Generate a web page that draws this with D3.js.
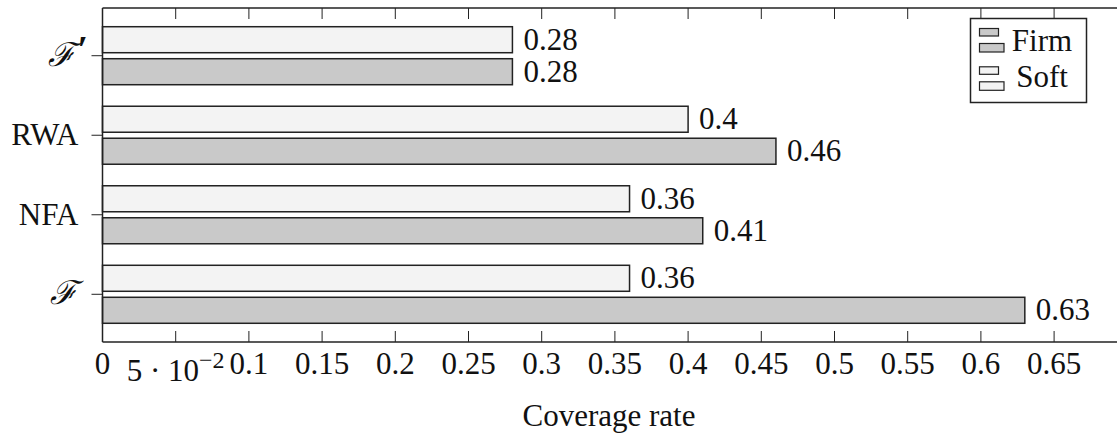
<!DOCTYPE html>
<html>
<head>
<meta charset="utf-8">
<script src="https://cdn.jsdelivr.net/npm/d3@7"></script>
<style>
  html, body { margin: 0; padding: 0; background: #fff; }
  svg { display: block; }
  text { font-family: "Liberation Serif", "Times New Roman", Times, serif; fill: #111; }
</style>
</head>
<body>
<svg id="chart" width="1117" height="436"></svg>
<script>
// ---- data ----
const categories = ["ℱ′", "RWA", "NFA", "ℱ"];
const softValues = [0.28, 0.40, 0.36, 0.36];
const firmValues = [0.28, 0.46, 0.41, 0.63];
const seriesNames = ["Firm", "Soft"];
const xTickValues = [0, 0.05, 0.1, 0.15, 0.2, 0.25, 0.3, 0.35, 0.4, 0.45, 0.5, 0.55, 0.6, 0.65];
const xTickLabels = ["0", "5 · 10^−2", "0.1", "0.15", "0.2", "0.25", "0.3", "0.35", "0.4", "0.45", "0.5", "0.55", "0.6", "0.65"];
const xTitle = "Coverage rate";

// ---- layout ----
const svg = d3.select("#chart");
const plotLeft = 102.5, plotTop = 8, plotBottom = 342;
const x = d3.scaleLinear().domain([0, 0.7]).range([plotLeft, plotLeft + 0.7 * 1464]);
const y = d3.scaleLinear().domain([-0.6, 3.6]).range([plotTop, plotBottom]);
const barH = 26, barOff = 16;
const firmFill = "#c9c9c9", softFill = "#f3f3f3", stroke = "#222";
const fs = 31;

// bars
const g = svg.append("g");
categories.forEach((c, i) => {
  const cy = y(i);
  // soft (upper)
  g.append("rect").attr("x", x(0)).attr("y", cy - barOff - barH / 2)
    .attr("width", x(softValues[i]) - x(0)).attr("height", barH)
    .attr("fill", softFill).attr("stroke", stroke).attr("stroke-width", 1.5);
  g.append("text").attr("x", x(softValues[i]) + 11).attr("y", cy - barOff + 10)
    .attr("font-size", fs).text(d3.format("")(softValues[i]));
  // firm (lower)
  g.append("rect").attr("x", x(0)).attr("y", cy + barOff - barH / 2)
    .attr("width", x(firmValues[i]) - x(0)).attr("height", barH)
    .attr("fill", firmFill).attr("stroke", stroke).attr("stroke-width", 1.5);
  g.append("text").attr("x", x(firmValues[i]) + 11).attr("y", cy + barOff + 10)
    .attr("font-size", fs).text(d3.format("")(firmValues[i]));
});

// axis frame
const frame = svg.append("g").attr("stroke", stroke).attr("stroke-width", 1.5).attr("fill", "none");
frame.append("line").attr("x1", plotLeft).attr("x2", 1117).attr("y1", plotTop).attr("y2", plotTop);
frame.append("line").attr("x1", plotLeft).attr("x2", 1117).attr("y1", plotBottom).attr("y2", plotBottom);
frame.append("line").attr("x1", plotLeft).attr("x2", plotLeft).attr("y1", plotTop).attr("y2", plotBottom);

// x ticks (inward, bottom and top)
const tickG = svg.append("g").attr("stroke", stroke).attr("stroke-width", 1);
xTickValues.forEach(v => {
  if (v === 0) return;
  tickG.append("line").attr("x1", x(v)).attr("x2", x(v)).attr("y1", plotBottom).attr("y2", plotBottom - 11);
  tickG.append("line").attr("x1", x(v)).attr("x2", x(v)).attr("y1", plotTop).attr("y2", plotTop + 11);
});
// y ticks (outward on left)
categories.forEach((c, i) => {
  tickG.append("line").attr("x1", plotLeft - 11).attr("x2", plotLeft).attr("y1", y(i)).attr("y2", y(i));
});

// x tick labels
xTickValues.forEach((v, i) => {
  const lab = xTickLabels[i];
  const t = svg.append("text").attr("x", x(v)).attr("text-anchor", "middle").attr("font-size", fs);
  if (lab.includes("^")) {
    const [base, sup] = lab.split("^");
    t.attr("y", 381);
    t.append("tspan").text(base);
    t.append("tspan").attr("dy", -13).attr("font-size", 24).text(sup);
  } else {
    t.attr("y", 374).text(lab);
  }
});

// x title
svg.append("text").attr("x", 609).attr("y", 426).attr("text-anchor", "middle")
  .attr("font-size", fs).text(xTitle);

// y labels
categories.forEach((c, i) => {
  if (c.startsWith("ℱ")) {
    const hasPrime = c.length > 1;
    svg.append("text").attr("y", y(i) + 10).attr("text-anchor", "end")
      .attr("x", hasPrime ? 75 : 77)
      .attr("font-family", "DejaVu Serif").attr("font-style", "italic").attr("font-size", 33)
      .text("ℱ");
    if (hasPrime) {
      svg.append("text").attr("x", 77.5).attr("y", y(i) + 6)
        .attr("font-family", "DejaVu Sans").attr("font-weight", "bold").attr("font-size", 38)
        .text("′");
    }
  } else {
    svg.append("text").attr("y", y(i) + 10).attr("text-anchor", "end").attr("font-size", fs)
      .attr("x", 78.5).text(c);
  }
});

// legend
const lg = svg.append("g");
lg.append("rect").attr("x", 970.5).attr("y", 18.5).attr("width", 116).attr("height", 84)
  .attr("fill", "#fff").attr("stroke", stroke).attr("stroke-width", 1.5);
const legendFills = [firmFill, softFill];
seriesNames.forEach((name, k) => {
  const oy = 28.5 + k * 38.3;
  lg.append("rect").attr("x", 979.5).attr("y", oy).attr("width", 19).attr("height", 7.5)
    .attr("fill", legendFills[k]).attr("stroke", stroke).attr("stroke-width", 1.2);
  lg.append("rect").attr("x", 979.5).attr("y", oy + 15).attr("width", 24.5).attr("height", 8.5)
    .attr("fill", legendFills[k]).attr("stroke", stroke).attr("stroke-width", 1.2);
  lg.append("text").attr("x", 1042).attr("y", 50.7 + k * 36).attr("text-anchor", "middle")
    .attr("font-size", fs).text(name);
});
</script>
</body>
</html>
